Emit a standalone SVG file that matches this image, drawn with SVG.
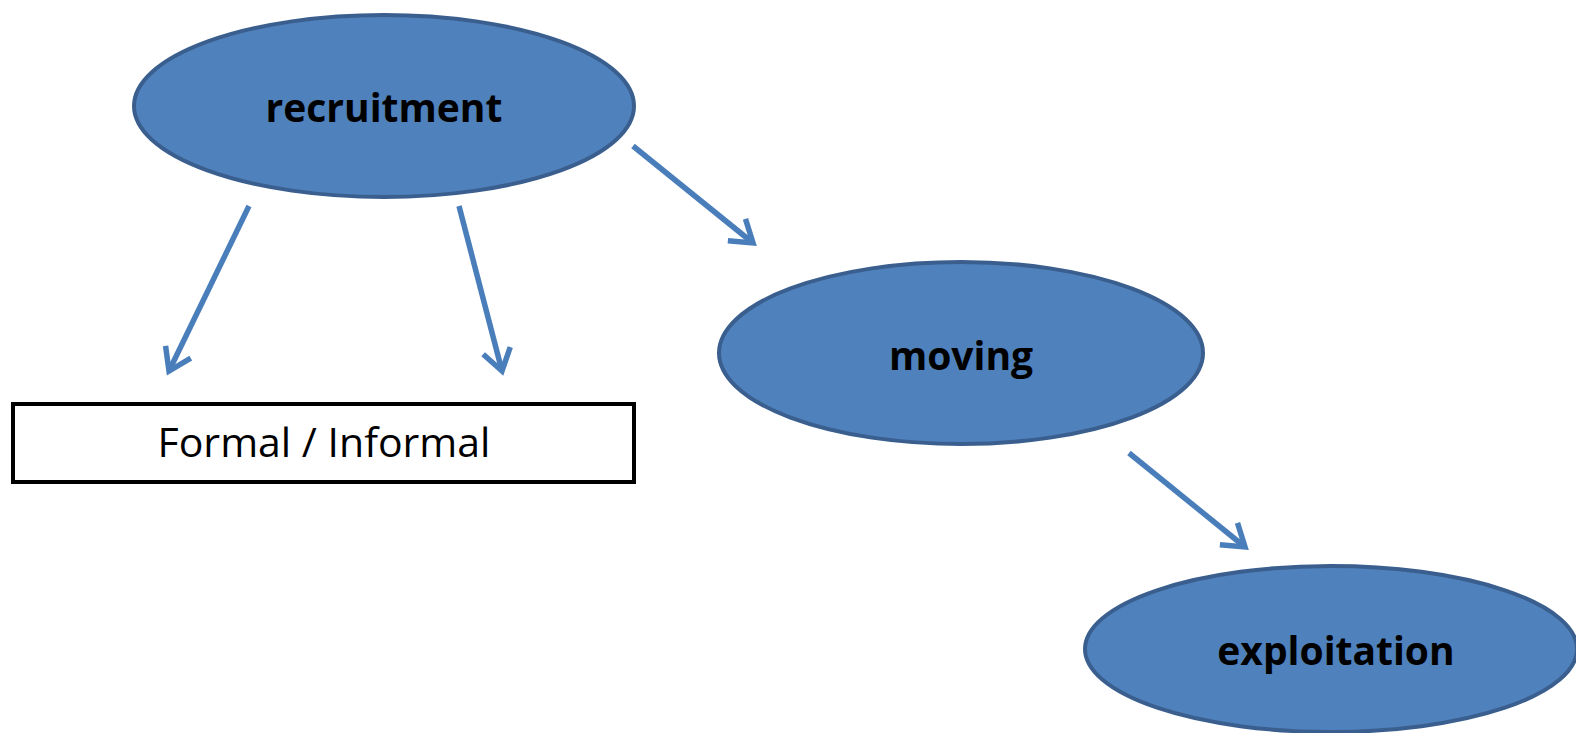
<svg xmlns="http://www.w3.org/2000/svg" width="1576" height="733" viewBox="0 0 1576 733">
<defs>
<style>
.node ellipse{fill:#4F81BD;stroke:#3A5F8E;stroke-width:4}
.lbl{font-family:"Open Sans","Liberation Sans",sans-serif;font-weight:bold;font-size:39px;fill:#000;text-anchor:middle}
.box{fill:#fff;stroke:#000;stroke-width:4}
.boxlbl{font-family:"Open Sans","Liberation Sans",sans-serif;font-size:41px;fill:#000;text-anchor:middle}
.conn line{stroke:#4A7EBB;stroke-width:5.5;fill:none}
</style>
<marker id="arr" markerUnits="userSpaceOnUse" viewBox="-30 -20 40 40" refX="0" refY="0" markerWidth="40" markerHeight="40" orient="auto">
<path d="M-21,-14 L0,0 L-21,14" fill="none" stroke="#4A7EBB" stroke-width="5.5" stroke-linejoin="miter" stroke-linecap="butt"/>
</marker>
</defs>
<rect width="1576" height="733" fill="#fff"/>
<g id="recruitment" class="node">
<ellipse cx="384" cy="106" rx="250" ry="91"/>
<text class="lbl" x="384" y="122">recruitment</text>
</g>
<g id="moving" class="node">
<ellipse cx="961" cy="353" rx="242" ry="91"/>
<text class="lbl" x="961" y="370">moving</text>
</g>
<g id="exploitation" class="node">
<ellipse cx="1331" cy="649" rx="246" ry="83"/>
<text class="lbl" x="1336" y="665">exploitation</text>
</g>
<g id="formal">
<rect class="box" x="13" y="404" width="621" height="78"/>
<text class="boxlbl" x="324" y="457">Formal / Informal</text>
</g>
<g id="connectors" class="conn">
<line x1="249" y1="206" x2="169" y2="371" marker-end="url(#arr)"/>
<line x1="459" y1="206" x2="502" y2="371" marker-end="url(#arr)"/>
<line x1="633" y1="146" x2="753" y2="243" marker-end="url(#arr)"/>
<line x1="1129" y1="453" x2="1245" y2="547" marker-end="url(#arr)"/>
</g>
</svg>
